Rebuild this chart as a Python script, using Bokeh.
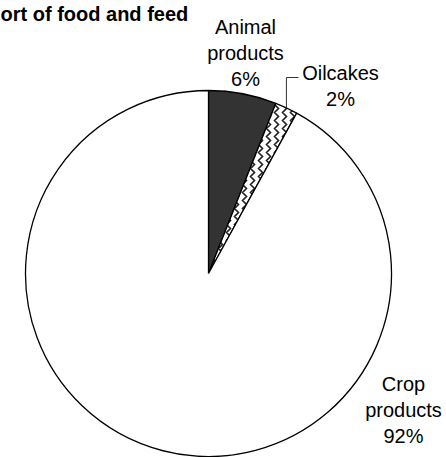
import math
from bokeh.plotting import figure
from bokeh.models import Range1d
from bokeh.core.properties import value
from bokeh.embed import file_html
from bokeh.resources import INLINE

# Share of imports by product group (percent)
categories = ["Animal products", "Oilcakes", "Crop products"]
shares = [6, 2, 92]
label_lines = [["Animal", "products", "6%"], ["Oilcakes", "2%"], ["Crop", "products", "92%"]]
title_text = "ort of food and feed"

W, H = 446, 457

def Y(py):
    # page-style top-down coordinate to plot coordinate
    return H - py

p = figure(width=W, height=H, output_backend="svg", toolbar_location=None,
           x_range=Range1d(0, W), y_range=Range1d(0, H), min_border=0)
p.axis.visible = False
p.grid.visible = False
p.outline_line_color = None
p.background_fill_color = "white"
p.border_fill_color = "white"

cx, cy, r = 208, Y(273), 183
total = sum(shares)

fills = ["#333333", "white", "white"]
hatches = [None, "vertical_wave", None]

starts, ends, mids = [], [], []
acc = 0
for s in shares:
    a0 = math.pi / 2 - 2 * math.pi * acc / total
    acc += s
    a1 = math.pi / 2 - 2 * math.pi * acc / total
    starts.append(a0)
    ends.append(a1)
    mids.append((a0 + a1) / 2)

for i in range(len(shares)):
    kw = {}
    if hatches[i]:
        kw = dict(hatch_pattern=hatches[i], hatch_color="#222222", hatch_scale=8, hatch_weight=1.6)
    p.wedge(x=cx, y=cy, radius=r, start_angle=starts[i], end_angle=ends[i],
            direction="clock", fill_color=fills[i], line_color="black", line_width=1.3, **kw)

# leader line for the small Oilcakes slice
mx = cx + r * math.cos(mids[1])
my = cy + r * math.sin(mids[1])
p.line(x=[mx, mx, mx + 12], y=[my, Y(77), Y(77)], line_color="#333333", line_width=1)

font = value("Liberation Sans")
label_pos = [(245, 26), (340, 72), (403, 383)]
line_h = 26
for (lx, ly), lines in zip(label_pos, label_lines):
    p.text(x=[lx] * len(lines), y=[Y(ly + k * line_h) for k in range(len(lines))], text=lines,
           text_font=font, text_font_size="20px", text_color="black",
           text_align="center", text_baseline="alphabetic")

p.text(x=[0], y=[Y(13)], text=[title_text], text_font=font, text_font_size="20px",
       text_font_style="bold", text_color="black", text_align="left", text_baseline="alphabetic")

open("out.html", "w").write(file_html(p, INLINE))
